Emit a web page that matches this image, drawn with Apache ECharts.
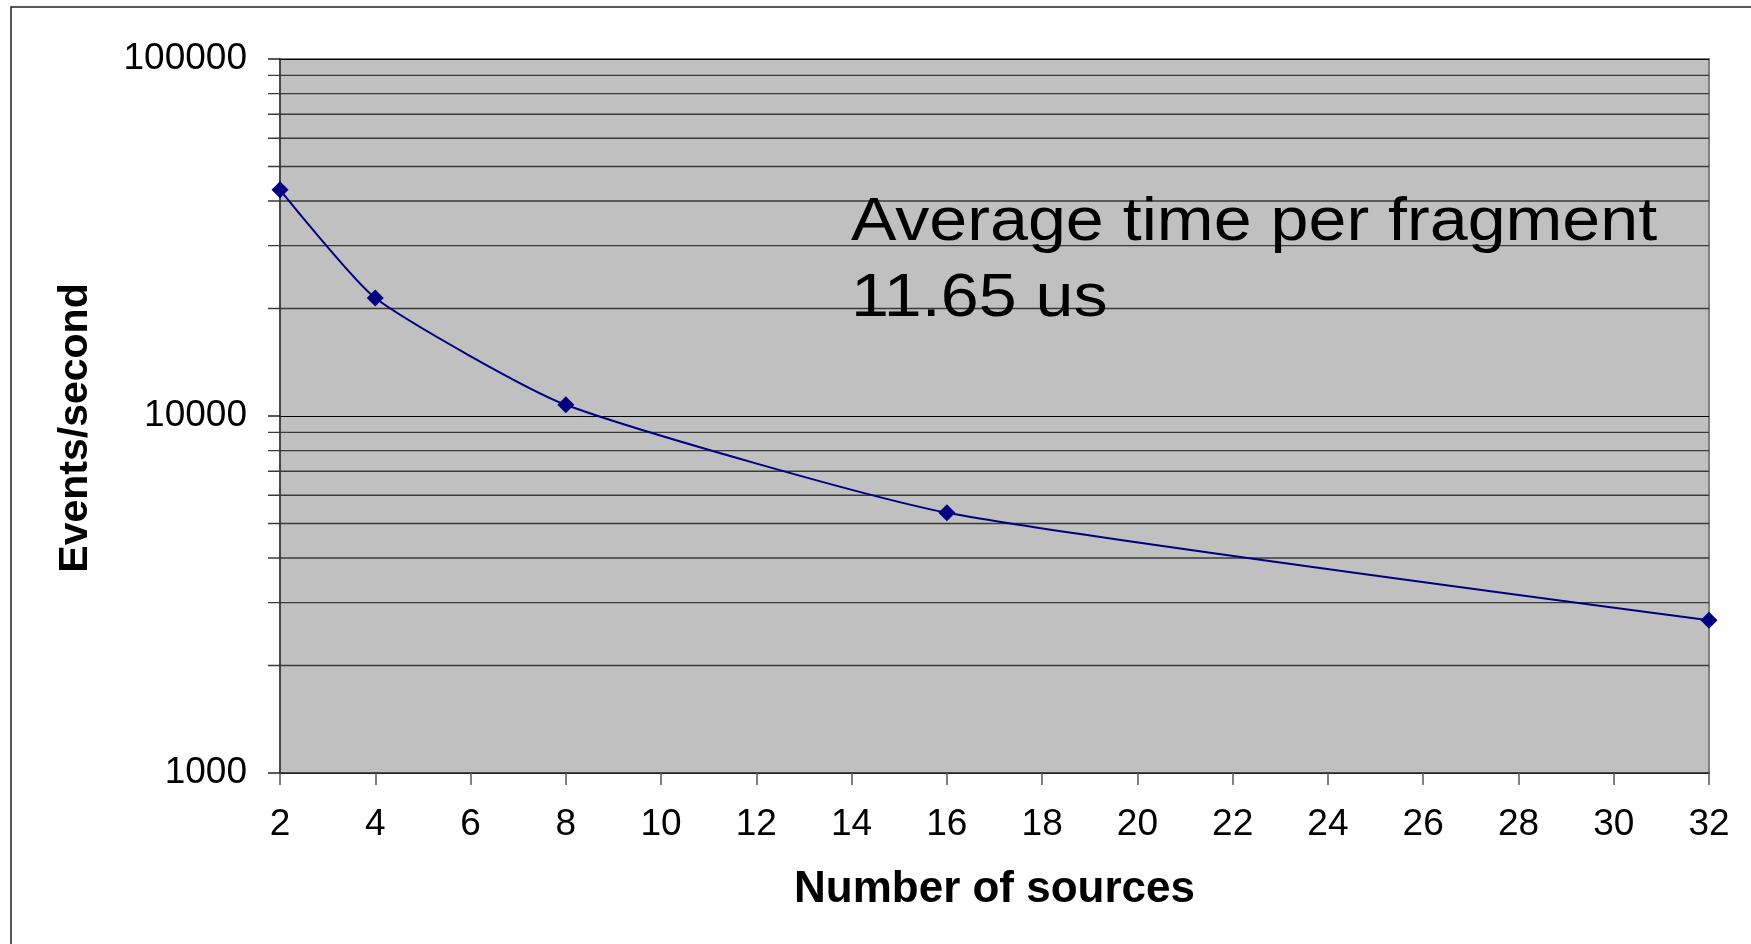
<!DOCTYPE html>
<html>
<head>
<meta charset="utf-8">
<script src="https://cdn.jsdelivr.net/npm/echarts@6/dist/echarts.min.js"></script>
<style>
html,body{margin:0;padding:0;background:#fff;}
#chart{width:1751px;height:944px;}
</style>
</head>
<body>
<div id="chart"></div>
<script>
// Data
const sources = [2, 4, 8, 16, 32];
const eventsPerSecond = [43000, 21400, 10750, 5360, 2680];
const yMinorTicks = [2000, 3000, 4000, 5000, 6000, 7000, 8000, 9000,
                     20000, 30000, 40000, 50000, 60000, 70000, 80000, 90000];
const xTickInterval = 2;
const annotationLines = ['Average time per fragment', '11.65 us'];
const xAxisTitle = 'Number of sources';
const yAxisTitle = 'Events/second';

const chart = echarts.init(document.getElementById('chart'));
const FONT = '"Liberation Sans", Arial, sans-serif';

chart.setOption({
  animation: false,
  backgroundColor: '#ffffff',
  grid: {
    left: 280, top: 59, right: 42, bottom: 171,
    show: true, backgroundColor: '#c0c0c0',
    borderColor: '#808080', borderWidth: 2
  },
  xAxis: {
    type: 'value', min: 2, max: 32, interval: xTickInterval,
    name: xAxisTitle, nameLocation: 'middle', nameGap: 95,
    nameTextStyle: { fontFamily: FONT, fontSize: 44, fontWeight: 'bold', color: '#000' },
    axisLine: { show: true, lineStyle: { color: '#333', width: 1.5 } },
    axisTick: { show: true, length: 12, lineStyle: { color: '#555', width: 1.5 } },
    axisLabel: { fontFamily: FONT, fontSize: 37, color: '#000', margin: 33 },
    splitLine: { show: false }
  },
  yAxis: {
    type: 'log', logBase: 10, min: 1000, max: 100000,
    name: yAxisTitle, nameLocation: 'middle', nameGap: 184, nameRotate: 90,
    nameTextStyle: { fontFamily: FONT, fontSize: 41, fontWeight: 'bold', color: '#000',
                     padding: [0, 24, 0, 0] },
    axisLine: { show: true, lineStyle: { color: '#333', width: 1.5 } },
    axisTick: { show: true, length: 12, lineStyle: { color: '#222', width: 1.5 } },
    axisLabel: { fontFamily: FONT, fontSize: 37, color: '#000', margin: 33,
                 formatter: function (v) { return String(Math.round(v)); } },
    splitLine: { show: true, lineStyle: { color: '#000', width: 1.2 } }
  },
  series: [
    {
      type: 'custom',
      silent: true,
      clip: false,
      z: 1,
      data: yMinorTicks.map(v => [sources[0], v]),
      encode: { x: 0, y: 1 },
      renderItem: function (params, api) {
        const v = api.value(1);
        const pL = api.coord([2, v]);
        const pR = api.coord([32, v]);
        return {
          type: 'line',
          shape: { x1: pL[0] - 12, y1: pL[1], x2: pR[0], y2: pR[1] },
          style: { stroke: '#3a3a3a', lineWidth: 1.4 }
        };
      }
    },
    {
      type: 'line',
      z: 5,
      data: sources.map((s, i) => [s, eventsPerSecond[i]]),
      smooth: 0.18,
      symbol: 'diamond',
      symbolSize: 17,
      lineStyle: { color: '#000080', width: 2 },
      itemStyle: { color: '#000080' }
    }
  ],
  graphic: [
    {
      type: 'rect', silent: true, z: 0,
      shape: { x: 11, y: 7, width: 3000, height: 3000 },
      style: { fill: 'none', stroke: '#222', lineWidth: 1.5 }
    },
    {
      type: 'text', silent: true, z: 10,
      x: 851, y: 185, scaleX: 1.1,
      style: {
        text: annotationLines.join('\n'),
        font: '62px ' + FONT,
        lineHeight: 76,
        fill: '#000',
        textAlign: 'left',
        textVerticalAlign: 'top'
      }
    }
  ]
});
</script>
</body>
</html>
